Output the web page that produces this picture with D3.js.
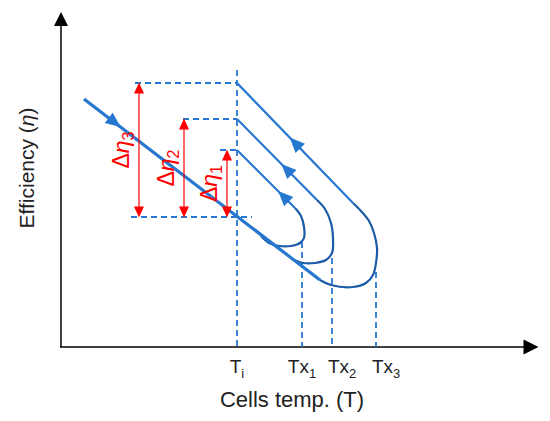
<!DOCTYPE html>
<html><head><meta charset="utf-8">
<script src="https://cdn.jsdelivr.net/npm/d3@7"></script>
<style>html,body{margin:0;padding:0;background:#fff;}</style>
</head><body><svg id="c" width="550" height="421"></svg>
<script>
// ---- data (temperature / efficiency units, arbitrary) ----
const tempTicks = ["Ti", "Tx1", "Tx2", "Tx3"];
const tempValues = [176, 241, 271, 315];
const etaBase = 130;                 // efficiency at Ti on the main line
const etaLevels = [197, 228, 264];   // eta1, eta2, eta3 at Ti after each loop
const deltaLabels = ["Δη1", "Δη2", "Δη3"];
const deltaArrowX = [166, 123, 78];
const dashStartX = [159, 122, 74];
const baseDashX = [70, 191];
// main heating line
const mainLine = [[23, 248], [259, 67]];
// loops: straight return path (upper) and curved bottom
const loopUpper = [
  [[176, 197], [234, 139]],
  [[176, 228], [256, 147]],
  [[176, 264], [292, 144]]
];
const loopBottom = [
  [[234, 139], [240, 131], [243, 120], [243, 109], [239, 104], [230, 101], [218, 101], [208, 104], [200, 111]],
  [[256, 147], [264, 138], [270, 124], [272, 108], [271, 94], [265, 87], [254, 84], [242, 84], [231, 88]],
  [[292, 144], [300, 136], [308, 126], [313, 114], [316, 99], [315, 84], [312, 72], [305, 64], [292, 60], [270, 62], [259, 67]]
];
const loopArrowT = [0.8, 0.62, 0.5];
const mainArrowT = 0.13;
const tickDashTop = [277, 105, 89, 75];

// ---- drawing ----
const svg = d3.select("#c");
const x = d3.scaleLinear().domain([0, 477]).range([61, 538]);
const y = d3.scaleLinear().domain([0, 335]).range([347, 12]);
const blue = "#2677cf", dark = "#1d5ba8", red = "#ff0000";
const line = d3.line().x(d => x(d[0])).y(d => y(d[1]));
const curve = d3.line().x(d => x(d[0])).y(d => y(d[1])).curve(d3.curveCatmullRom.alpha(0.5));

function arrowHead(px, py, ang, len, wid, fill) {
  const c = Math.cos(ang), s = Math.sin(ang);
  const tip = [px + c * len / 2, py + s * len / 2];
  const bx = px - c * len / 2, by = py - s * len / 2;
  const p1 = [bx - s * wid / 2, by + c * wid / 2];
  const p2 = [bx + s * wid / 2, by - c * wid / 2];
  svg.append("path").attr("d", `M${tip}L${p1}L${p2}Z`).attr("fill", fill);
}

// axes
svg.append("line").attr("x1", x(0)).attr("y1", y(0)).attr("x2", x(0)).attr("y2", y(322))
  .attr("stroke", "#000").attr("stroke-width", 1.5);
svg.append("line").attr("x1", x(0) - 1).attr("y1", y(0)).attr("x2", x(463)).attr("y2", y(0))
  .attr("stroke", "#000").attr("stroke-width", 1.5);
arrowHead(x(0), y(328), -Math.PI / 2, 14, 14, "#000");
arrowHead(x(470), y(0), 0, 15, 15, "#000");

const dashAttrs = sel => sel.attr("stroke", blue).attr("stroke-width", 1.8).attr("stroke-dasharray", "6,4").attr("fill", "none");

// vertical dashed lines at tick temperatures
tempValues.forEach((t, i) => {
  svg.append("line").attr("x1", x(t)).attr("x2", x(t)).attr("y1", y(tickDashTop[i])).attr("y2", y(0)).call(dashAttrs);
});
// horizontal dashed lines
etaLevels.forEach((e, i) => {
  svg.append("line").attr("x1", x(dashStartX[i])).attr("x2", x(tempValues[0])).attr("y1", y(e)).attr("y2", y(e)).call(dashAttrs);
});
svg.append("line").attr("x1", x(baseDashX[0])).attr("x2", x(baseDashX[1])).attr("y1", y(etaBase)).attr("y2", y(etaBase)).call(dashAttrs);

// loops
loopUpper.forEach((seg, i) => {
  svg.append("path").attr("d", line(seg)).attr("stroke", blue).attr("stroke-width", 2.2).attr("fill", "none");
  svg.append("path").attr("d", curve(loopBottom[i])).attr("stroke", dark).attr("stroke-width", 2.2).attr("fill", "none");
  const t = loopArrowT[i];
  const ax = seg[0][0] + (seg[1][0] - seg[0][0]) * t, ay = seg[0][1] + (seg[1][1] - seg[0][1]) * t;
  const ang = Math.atan2(y(seg[0][1]) - y(seg[1][1]), x(seg[0][0]) - x(seg[1][0]));
  arrowHead(x(ax), y(ay), ang, 15, 13, blue);
});
// main line
svg.append("path").attr("d", line(mainLine)).attr("stroke", blue).attr("stroke-width", 3.2).attr("fill", "none");
{
  const [a, b] = mainLine;
  const ax = a[0] + (b[0] - a[0]) * mainArrowT, ay = a[1] + (b[1] - a[1]) * mainArrowT;
  const ang = Math.atan2(y(b[1]) - y(a[1]), x(b[0]) - x(a[0]));
  arrowHead(x(ax), y(ay), ang, 15, 13, blue);
}

// red delta arrows and labels
etaLevels.forEach((e, i) => {
  const ax = x(deltaArrowX[i]);
  svg.append("line").attr("x1", ax).attr("x2", ax).attr("y1", y(e) + 8).attr("y2", y(etaBase) - 8)
    .attr("stroke", red).attr("stroke-width", 1.2);
  arrowHead(ax, y(e) + 5, -Math.PI / 2, 11, 10, red);
  arrowHead(ax, y(etaBase) - 5, Math.PI / 2, 11, 10, red);
  const my = (y(e) + y(etaBase)) / 2;
  const lab = deltaLabels[i];
  const tx = svg.append("text").attr("transform", `translate(${ax - 10},${my}) rotate(-90)`)
    .attr("text-anchor", "middle").attr("fill", red)
    .style("font-family", "'Liberation Sans', Arial, sans-serif").style("font-size", "23px");
  tx.append("tspan").text("Δ");
  tx.append("tspan").text("η").style("font-style", "italic");
  tx.append("tspan").text(lab.slice(2)).attr("dy", 5).style("font-size", "16px");
});

// tick labels
const tickFont = "'Liberation Sans', Arial, sans-serif";
tempTicks.forEach((lab, i) => {
  const anchor = i < 2 ? "middle" : "start";
  const px = x(tempValues[i]) + (i < 2 ? 0 : -4);
  const t = svg.append("text").attr("x", px).attr("y", 373).attr("text-anchor", anchor)
    .style("font-family", tickFont).style("font-size", "19px").attr("fill", "#222");
  t.append("tspan").text(lab.slice(0, lab.length - 1));
  t.append("tspan").text(lab.slice(-1)).attr("dy", 5).style("font-size", "13px");
});

// axis titles
svg.append("text").attr("x", 292).attr("y", 407).attr("text-anchor", "middle")
  .style("font-family", tickFont).style("font-size", "22px").attr("fill", "#222").text("Cells temp. (T)");
const yt = svg.append("text").attr("transform", "translate(34,168) rotate(-90)").attr("text-anchor", "middle")
  .style("font-family", tickFont).style("font-size", "21px").attr("fill", "#222");
yt.append("tspan").text("Efficiency (");
yt.append("tspan").text("η").style("font-style", "italic");
yt.append("tspan").text(")");
</script></body></html>
